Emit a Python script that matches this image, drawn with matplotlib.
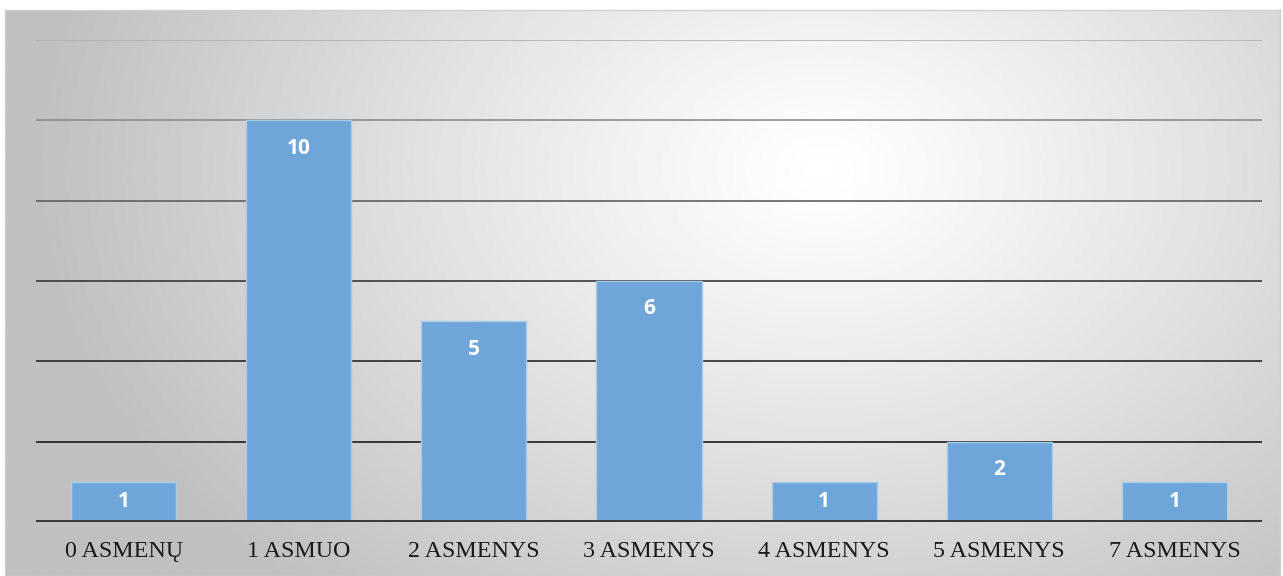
import numpy as np
import matplotlib.pyplot as plt

categories = ['0 ASMENŲ', '1 ASMUO', '2 ASMENYS', '3 ASMENYS', '4 ASMENYS', '5 ASMENYS', '7 ASMENYS']
values = [1, 10, 5, 6, 1, 2, 1]
grid_levels = [2, 4, 6, 8, 10, 12]
grid_colors = ['#1a1a1a', '#282828', '#383838', '#606060', '#8c8c8c', '#b0b0b0']

W, H = 1283, 576
fig = plt.figure(figsize=(W / 100, H / 100), dpi=100)
fig.patch.set_facecolor('white')

# radial gradient background of the chart area
bg = fig.add_axes([5 / W, 0, (1280 - 5) / W, (576 - 10) / H])
ny, nx = 300, 680
yy, xx = np.mgrid[0:ny, 0:nx]
cx, cy = 0.64 * nx, 0.28 * ny
d = np.sqrt(((xx - cx) / nx) ** 2 + ((yy - cy) / (ny * 1.6)) ** 2)
d = np.clip(d / 0.62, 0, 1)
shade = 1.0 - 0.25 * d ** 1.1
bg.imshow(shade, cmap='gray', vmin=0, vmax=1, aspect='auto', interpolation='bilinear')
bg.set_xticks([])
bg.set_yticks([])
for s in bg.spines.values():
    s.set_color('#d0d0d0')
    s.set_linewidth(1)

ax = fig.add_axes([36 / W, (576 - 522) / H, 1226 / W, 482 / H])
ax.patch.set_alpha(0)
x = np.arange(len(categories))
for lvl, col in zip(grid_levels, grid_colors):
    ax.axhline(lvl, color=col, lw=1.2, zorder=1)
ax.axhline(0, color='#3a3a3a', lw=3.6, zorder=3)

bars = ax.bar(x, values, width=0.6, color='#6fa6d9', edgecolor='#a8cbea', linewidth=1, zorder=2)
for xi, v in zip(x, values):
    if v <= 1:
        ax.text(xi, v / 2, str(v), ha='center', va='center', color='white',
                fontsize=15, fontweight='bold', family='Open Sans', zorder=4)
    else:
        ax.annotate(str(v), (xi, v), xytext=(0, -28), textcoords='offset pixels',
                    ha='center', va='center', color='white',
                    fontsize=15, fontweight='bold', family='Open Sans', zorder=4)

ax.set_xlim(-0.5, len(categories) - 0.5)
ax.set_ylim(0, 12)
ax.set_yticks([])
ax.set_xticks(x)
ax.set_xticklabels(categories, family='Liberation Serif', fontsize=17.3, color='#1a1a1a')
ax.tick_params(axis='x', length=0, pad=14)
for s in ax.spines.values():
    s.set_visible(False)

fig.savefig('out.png', dpi=100)
